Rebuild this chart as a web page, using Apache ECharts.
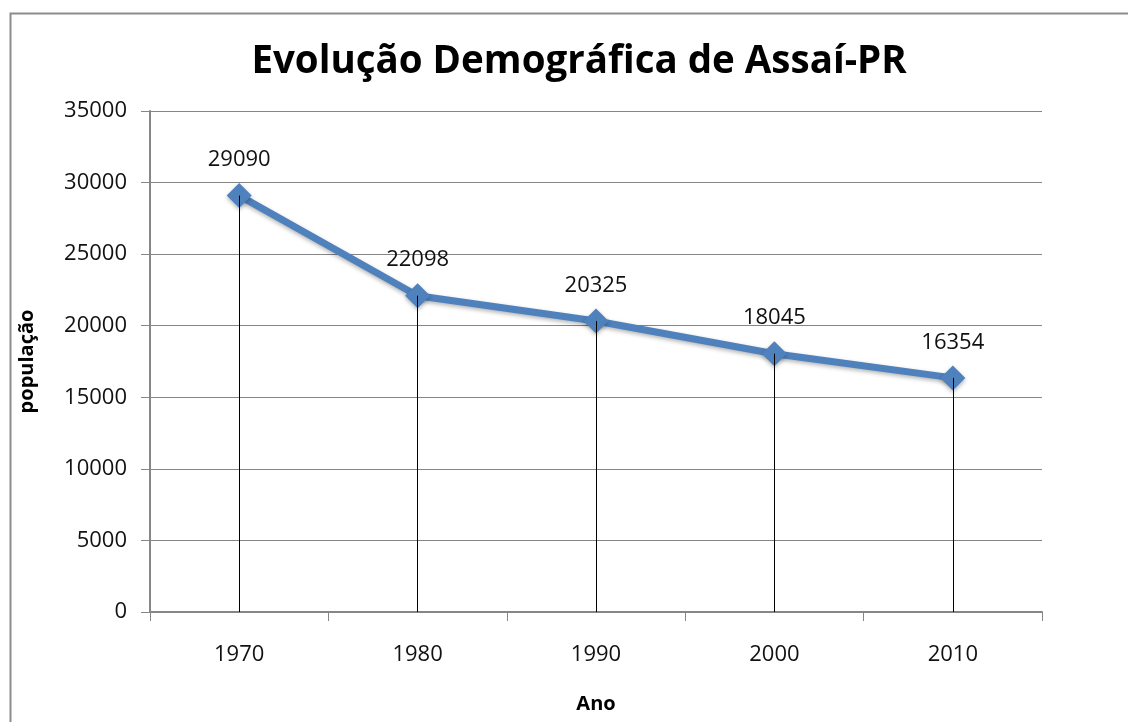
<!DOCTYPE html>
<html><head><meta charset="utf-8">
<script src="https://cdn.jsdelivr.net/npm/echarts@6/dist/echarts.min.js"></script>
<style>html,body{margin:0;padding:0;background:#fff}#c{width:1128px;height:722px}</style>
</head><body><div id="c"></div>
<script>
const categories = ['1970','1980','1990','2000','2010'];
const populacao = [29090, 22098, 20325, 18045, 16354];
const yTicks = [0, 5000, 10000, 15000, 20000, 25000, 30000, 35000];
const titleText = 'Evolução Demográfica de Assaí-PR';
const xName = 'Ano';
const yName = 'população';

const chart = echarts.init(document.getElementById('c'), null, {renderer:'canvas'});
const font = 'Open Sans';
chart.setOption({
  animation: false,
  backgroundColor: '#fff',
  graphic: [{type:'rect', left:8, top:11, shape:{width:1200, height:800}, style:{fill:'none', stroke:'#8c8c8c', lineWidth:2}, silent:true}],
  title: {text: titleText, left: 574, top: 38, textAlign:'center',
    textStyle:{fontFamily:font, fontWeight:'bold', fontSize:38.5, color:'#000'}},
  grid: {left:150, right:86, top:111, bottom:110, outerBoundsMode:'none', containLabel:false},
  xAxis: {type:'category', data: categories, boundaryGap:true,
    name: xName, nameLocation:'middle', nameGap:82,
    nameTextStyle:{fontFamily:font, fontWeight:'bold', fontSize:20, color:'#000'},
    axisLine:{lineStyle:{color:'#868686', width:2}},
    axisTick:{show:true, length:9, lineStyle:{color:'#868686'}, alignWithLabel:false},
    axisLabel:{fontFamily:font, fontSize:22, color:'#111', margin:32},
    splitLine:{show:false}},
  yAxis: {type:'value', min: yTicks[0], max: yTicks[yTicks.length-1], interval:5000,
    name: yName, nameLocation:'middle', nameGap:113, nameRotate:90,
    nameTextStyle:{fontFamily:font, fontWeight:'bold', fontSize:20, color:'#000'},
    axisLine:{show:true, lineStyle:{color:'#868686', width:2}},
    axisTick:{show:true, length:9, lineStyle:{color:'#868686'}},
    axisLabel:{fontFamily:font, fontSize:22, color:'#111', margin:23, formatter: v => String(v)},
    splitLine:{lineStyle:{color:'#868686', width:1}}},
  series: [{
    type:'line', data: populacao,
    symbol:'diamond', symbolSize:25,
    lineStyle:{color:'#4F81BD', width:7, shadowColor:'rgba(0,0,0,0.3)', shadowBlur:4, shadowOffsetY:2},
    itemStyle:{color:'#4F81BD', shadowColor:'rgba(0,0,0,0.3)', shadowBlur:4, shadowOffsetY:2},
    label:{show:true, position:'top', distance:12, fontFamily:font, fontSize:22, color:'#111'},
    markLine:{symbol:'none', silent:true, label:{show:false},
      lineStyle:{color:'#000', width:1, type:'solid'},
      data: populacao.map((v,i)=>[{coord:[i, v]},{coord:[i, 0]}])},
    z: 2
  }]
});
</script></body></html>
